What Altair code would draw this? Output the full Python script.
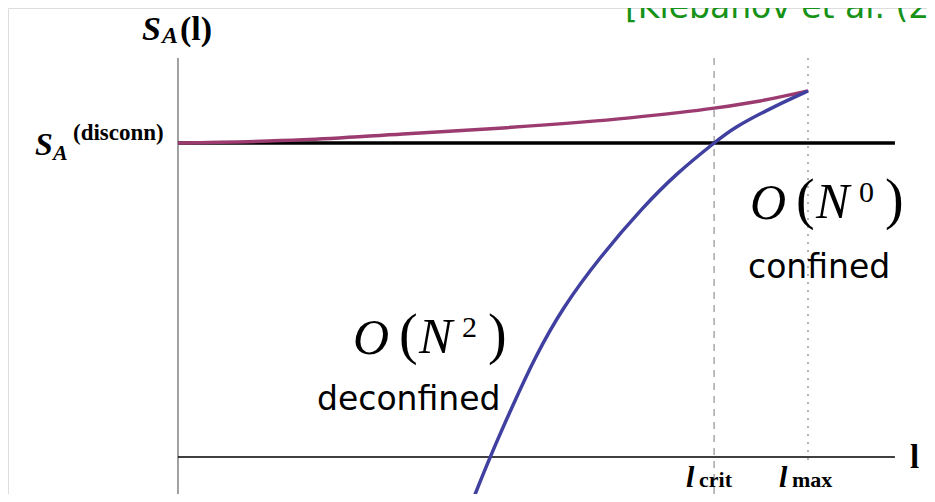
import altair as alt
import pandas as pd

# ---------------- data ----------------
# confined branch (purple)
l_conf = [0.0, 0.198, 0.357, 0.516, 0.717, 0.851, 0.924, 1.0]
s_conf = [1.0, 1.010, 1.029, 1.048, 1.080, 1.111, 1.134, 1.166]
# deconfined branch (blue)
l_dec = [0.4667, 0.4952, 0.5302, 0.5667, 0.6111, 0.6698, 0.7381, 0.7921,
         0.8508, 0.8810, 0.9444, 1.0]
s_dec = [-0.1433, 0.0, 0.1592, 0.3185, 0.4777, 0.6369, 0.7962, 0.9045,
         1.0, 1.0478, 1.1146, 1.1656]
s_disconn = 1.0
l_crit = 0.851
l_max = 1.0
l_axis_end = 1.138
s_axis_top = 1.2707

# text labels
y_title = ["S", "A", "(l)"]
disconn_label = ["S", "A", "(disconn)"]
x_title = "l"
crit_label = ["l", "crit"]
max_label = ["l", "max"]
citation = "[Klebanov et al. (2008)]"
order_conf = ["O", "(", "N", "0", ")"]
order_dec = ["O", "(", "N", "2", ")"]
phase_conf = "confined"
phase_dec = "deconfined"

# ---------------- chart ----------------
W, H = 919, 486
xs = alt.Scale(domain=[-0.2698, 1.1889], nice=False, zero=False)
ys = alt.Scale(domain=[-0.1178, 1.4299], nice=False, zero=False)

one = pd.DataFrame({"k": [0]})
conf_df = pd.DataFrame({"l": l_conf, "s": s_conf})
dec_df = pd.DataFrame({"l": l_dec, "s": s_dec})

X = lambda f: alt.X(f, type="quantitative", scale=xs, axis=None)
Y = lambda f: alt.Y(f, type="quantitative", scale=ys, axis=None)

layers = []

# vertical axis (gray)
layers.append(alt.Chart(one).mark_rule(color="#8a8a8a", strokeWidth=1.6).encode(
    x=alt.X(datum=0, scale=xs, axis=None), y=alt.Y(datum=s_axis_top, scale=ys, axis=None),
    y2=alt.value(H)))
# horizontal axis
layers.append(alt.Chart(one).mark_rule(color="black", strokeWidth=1.5).encode(
    x=alt.X(datum=0, scale=xs, axis=None), x2=alt.datum(l_axis_end),
    y=alt.Y(datum=0, scale=ys, axis=None)))
# l_crit dashed
layers.append(alt.Chart(one).mark_rule(color="#a8a8a8", strokeWidth=1.5, strokeDash=[7, 6]).encode(
    x=alt.X(datum=l_crit, scale=xs, axis=None), y=alt.Y(datum=s_axis_top, scale=ys, axis=None),
    y2=alt.value(H)))
# l_max dotted
layers.append(alt.Chart(one).mark_rule(color="#9a9a9a", strokeWidth=1.5, strokeDash=[2, 6]).encode(
    x=alt.X(datum=l_max, scale=xs, axis=None), y=alt.Y(datum=s_axis_top, scale=ys, axis=None),
    y2=alt.Y2(datum=-0.016)))
# disconnected level (black)
layers.append(alt.Chart(one).mark_rule(color="black", strokeWidth=3.5).encode(
    x=alt.X(datum=0, scale=xs, axis=None), x2=alt.datum(l_axis_end),
    y=alt.Y(datum=s_disconn, scale=ys, axis=None)))
# curves
layers.append(alt.Chart(conf_df).mark_line(color="#9b3b6f", strokeWidth=3.5,
                                           interpolate="monotone").encode(x=X("l"), y=Y("s")))
layers.append(alt.Chart(dec_df).mark_line(color="#4040a0", strokeWidth=3.5, clip=True,
                                          interpolate="basis").encode(x=X("l"), y=Y("s")))


def txt(s, x, y, size, font="Liberation Serif", weight="normal", style="normal",
        color="black"):
    return alt.Chart(one).mark_text(
        text=s, align="left", baseline="alphabetic", fontSize=size, font=font,
        fontWeight=weight, fontStyle=style, color=color
    ).encode(x=alt.value(x), y=alt.value(y))


# y-axis title S_A(l)
layers.append(txt(y_title[0], 134, 32, 34, weight="bold", style="italic"))
layers.append(txt(y_title[1], 154, 35, 24, weight="bold", style="italic"))
layers.append(txt(y_title[2], 172, 32, 34, weight="bold"))
# S_A^(disconn)
layers.append(txt(disconn_label[0], 27, 147, 32, weight="bold", style="italic"))
layers.append(txt(disconn_label[1], 45, 152, 22, weight="bold", style="italic"))
layers.append(txt(disconn_label[2], 65, 132, 23, weight="bold"))
# x-axis title
layers.append(txt(x_title, 902, 460, 33, weight="bold"))
# l_crit, l_max
layers.append(txt(crit_label[0], 678, 479, 30, weight="bold", style="italic"))
layers.append(txt(crit_label[1], 691, 479, 22, weight="bold"))
layers.append(txt(max_label[0], 771, 479, 30, weight="bold", style="italic"))
layers.append(txt(max_label[1], 784, 479, 22, weight="bold"))
# citation (cut at the top edge, as in the original slide)
layers.append(txt(citation, 617, 10, 33, font="DejaVu Sans", color="#169216"))


def order_label(parts, x0, base):
    out = []
    out.append(txt(parts[0], x0, base + 1, 50, style="italic"))
    out.append(txt(parts[1], x0 + 46, base, 56))
    out.append(txt(parts[2], x0 + 66, base, 50, style="italic"))
    out.append(txt(parts[3], x0 + 109, base - 16, 30))
    out.append(txt(parts[4], x0 + 135, base, 56))
    return out


layers += order_label(order_dec, 345, 345)
layers += order_label(order_conf, 742, 210)
layers.append(txt(phase_dec, 309, 402, 33, font="DejaVu Sans"))
layers.append(txt(phase_conf, 740, 270, 33, font="DejaVu Sans"))

chart = alt.layer(*layers).properties(
    width=W, height=H, padding=0, autosize=alt.AutoSizeParams(type="none")
).configure_view(stroke=None).configure(background="white")

chart.save("out.html", embed_options={"renderer": "svg", "actions": False})
